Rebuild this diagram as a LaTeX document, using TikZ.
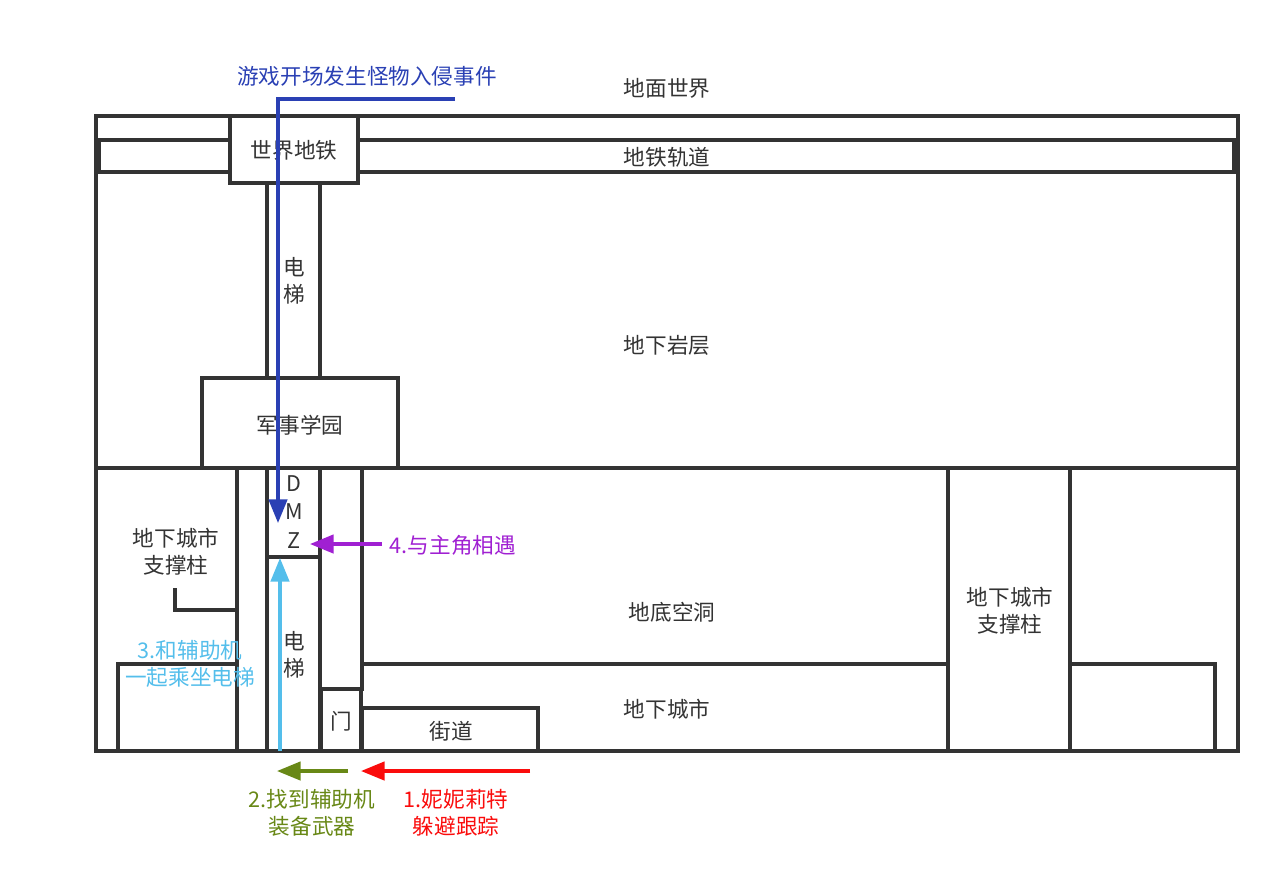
\documentclass[tikz,border=0pt]{standalone}
\usepackage{fontspec}
\setmainfont{Noto Sans CJK SC}
\usetikzlibrary{arrows.meta}
\definecolor{wallgray}{RGB}{51,51,51}
\definecolor{invblue}{RGB}{42,64,180}
\definecolor{meetpurple}{RGB}{160,32,210}
\definecolor{liftblue}{RGB}{84,190,235}
\definecolor{gearolive}{RGB}{104,136,22}
\definecolor{hidered}{RGB}{250,12,12}
\tikzset{
  wall/.style={line width=2pt,draw=wallgray,line join=miter},
  room/.style={wall,fill=white},
  tag/.style={text=wallgray,align=center,inner sep=0pt,font=\fontsize{12.3}{15.3}\selectfont},
  route/.style={line width=1.9pt,-{Triangle[length=13.5pt,width=10.5pt]}}
}

\begin{document}
\begin{tikzpicture}[x=0.02cm,y=-0.02cm]
  \useasboundingbox (0,0) rectangle (1280,887);
  % ground and rock layer
  \draw[wall] (96,116) rectangle (1238,751);
  \draw[wall] (96,468) -- (1238,468);
  \draw[wall] (99,140) rectangle (1234,172);
  \draw[room] (230,116) rectangle (358,183);
  \draw[wall] (267,183) rectangle (320,378);
  \draw[room] (202,378) rectangle (398,468);
  % underground city
  \draw[wall] (237,468) -- (237,751);
  \draw[wall] (267,468) rectangle (320,557);
  \draw[wall] (267,557) rectangle (320,751);
  \draw[wall] (320,468) rectangle (362,689);
  \draw[wall] (321,689) rectangle (361,751);
  \draw[wall] (175,588) -- (175,610) -- (237,610);
  \draw[wall] (118,751) -- (118,664) -- (237,664);
  \draw[wall] (362,664) -- (948,664);
  \draw[wall] (362,708) rectangle (538,751);
  \draw[wall] (948,468) rectangle (1070,751);
  \draw[wall] (1070,664) -- (1215,664) -- (1215,751);

  \node[tag] (ground) at (667,88) {地面世界};
  \node[tag] (metro) at (294,150) {世界地铁};
  \node[tag] (track) at (667,157) {地铁轨道};
  \node[tag] (liftup) at (294,281) {电\\梯};
  \node[tag] (rock) at (667,345) {地下岩层};
  \node[tag] (academy) at (300,425) {军事学园};
  \node[tag,font=\fontsize{12.3}{16}\selectfont] (dmz) at (294,512) {D\\M\\Z};
  \node[tag] (pillarL) at (176,552) {地下城市\\支撑柱};
  \node[tag] (cave) at (672,612) {地底空洞};
  \node[tag] (pillarR) at (1010,611) {地下城市\\支撑柱};
  \node[tag] (liftdown) at (294,655) {电\\梯};
  \node[tag] (door) at (341,721) {门};
  \node[tag] (street) at (451,731) {街道};
  \node[tag] (city) at (667,709) {地下城市};

  \node[tag,text=invblue] (invade) at (367,76) {游戏开场发生怪物入侵事件};
  \node[tag,text=meetpurple] (meet) at (453,545) {4.与主角相遇};
  \node[tag,text=liftblue] (ride) at (190,664) {3.和辅助机\\一起乘坐电梯};
  \node[tag,text=gearolive] (gear) at (312,813) {2.找到辅助机\\装备武器};
  \node[tag,text=hidered] (hide) at (456,813) {1.妮妮莉特\\躲避跟踪};

  \coordinate (invS) at (455,99); \coordinate (invK) at (278,99); \coordinate (invE) at (278,523);
  \coordinate (meetS) at (382,544); \coordinate (meetE) at (310,544);
  \coordinate (rideS) at (280,751); \coordinate (rideE) at (280,558);
  \coordinate (gearS) at (348,771); \coordinate (gearE) at (277,771);
  \coordinate (hideS) at (530,771); \coordinate (hideE) at (361,771);
  \draw[route,draw=invblue] (invS) -- (invK) -- (invE);
  \draw[route,draw=meetpurple] (meetS) -- (meetE);
  \draw[route,draw=liftblue] (rideS) -- (rideE);
  \draw[route,draw=gearolive] (gearS) -- (gearE);
  \draw[route,draw=hidered] (hideS) -- (hideE);
\end{tikzpicture}
\end{document}
